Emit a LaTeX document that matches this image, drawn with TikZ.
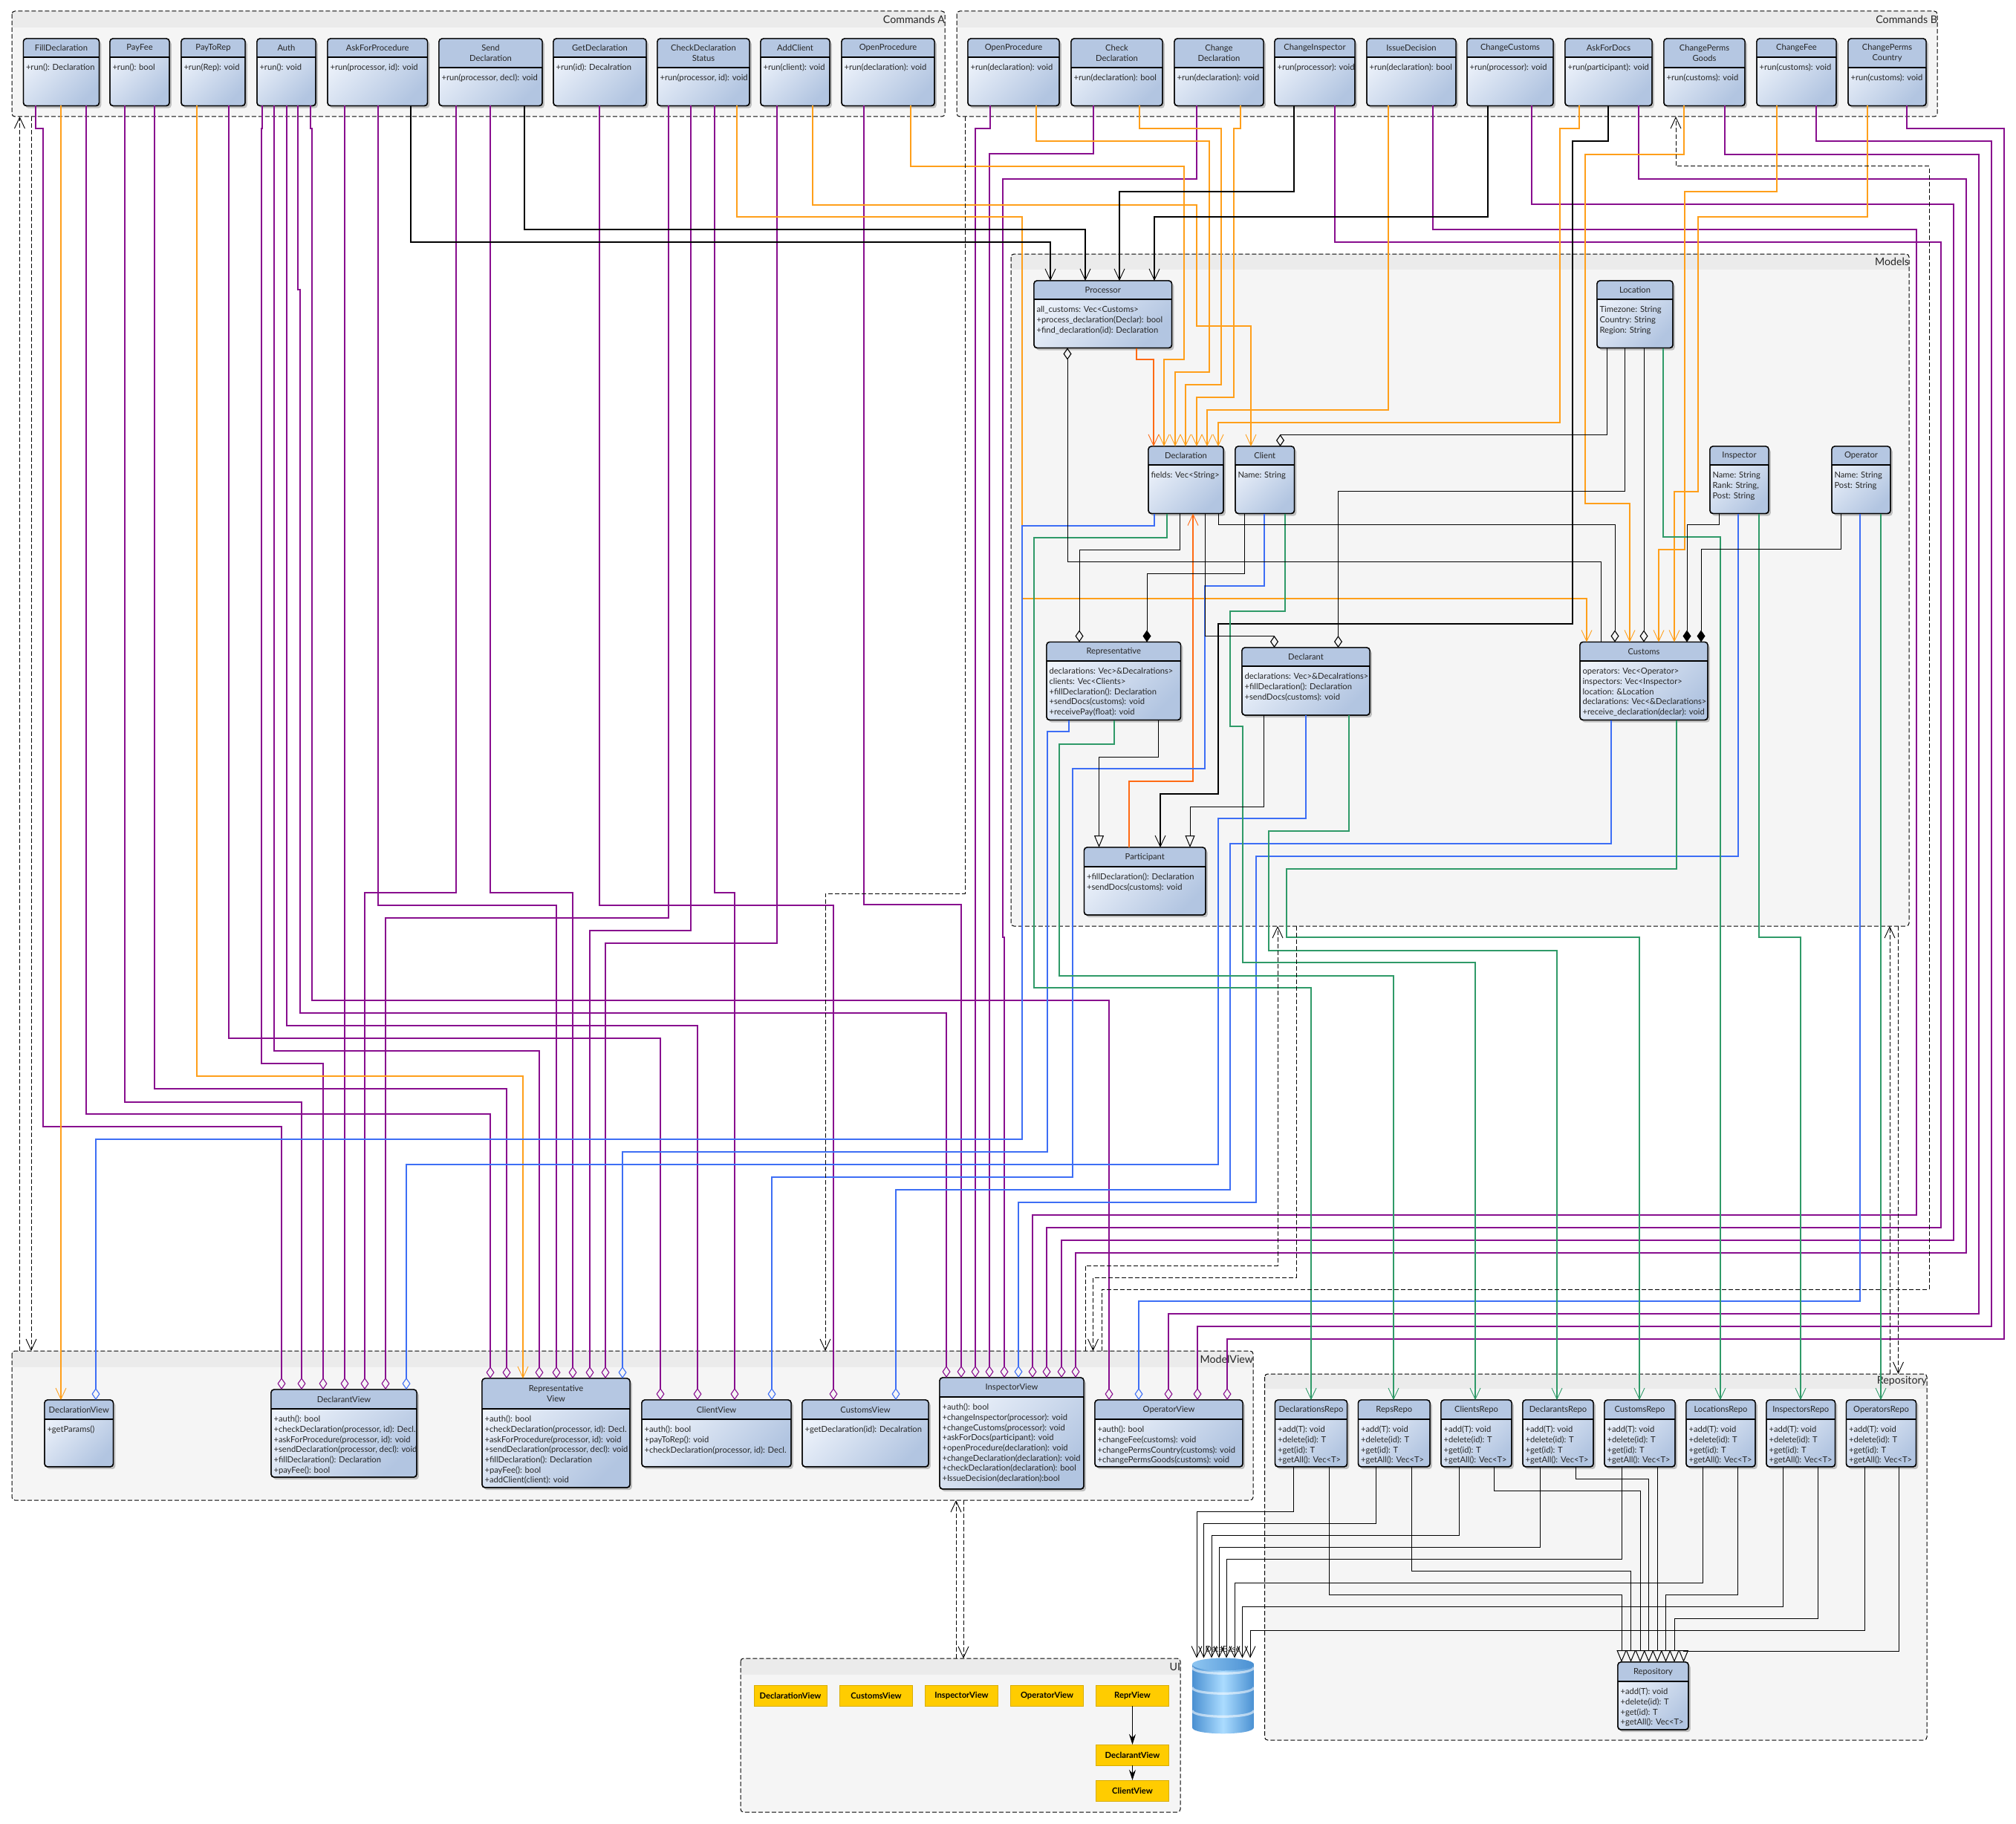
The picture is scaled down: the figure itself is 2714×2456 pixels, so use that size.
\documentclass[tikz,border=0pt]{standalone}
\usepackage{fontspec}
\setmainfont{Lato}
\usetikzlibrary{arrows.meta,shadows}
\definecolor{gradA}{HTML}{EEF3FB}
\definecolor{gradB}{HTML}{B2C5E1}
\definecolor{hdrC}{HTML}{B5C7E2}
\definecolor{pkgC}{HTML}{F5F5F5}
\definecolor{pkgH}{HTML}{EBEBEB}
\definecolor{cPur}{HTML}{880E8E}
\definecolor{cOra}{HTML}{FF9F1A}
\definecolor{cRed}{HTML}{FF6A13}
\definecolor{cBlu}{HTML}{3D6EF5}
\definecolor{cGre}{HTML}{2F9A68}
\definecolor{cYel}{HTML}{FFCC00}
\definecolor{dbA}{HTML}{4A90D2}
\definecolor{dbB}{HTML}{ABDCFF}
\tikzset{
  cls/.style={draw=black,line width=.7pt,rounded corners=2pt,inner sep=0pt,outer sep=0pt,
    top color=gradA,bottom color=gradB,shading angle=45,
    drop shadow={shadow xshift=1.4pt,shadow yshift=-1.6pt,opacity=.22,fill=black}},
  txtA/.style={font=\fontsize{5.6}{6.85}\selectfont,text=black!85,inner sep=0pt,outer sep=0pt},
  pkgbox/.style={inner sep=0pt,outer sep=0pt,fill=pkgC},
  pkgline/.style={draw=black,line width=.5pt,dash pattern=on 3pt off 1.5pt,rounded corners=2pt},
  pkglab/.style={font=\fontsize{7.1}{9}\selectfont,text=black!85,inner sep=0pt,outer sep=0pt,anchor=east},
  ybox/.style={fill=cYel,draw=cYel!85!black,line width=.4pt,inner sep=0pt,outer sep=0pt,
    minimum width=49pt,minimum height=14pt,font=\fontsize{5.6}{7}\selectfont\bfseries},
  pur/.style={draw=cPur,line width=.9pt},
  ora/.style={draw=cOra,line width=.9pt},
  red/.style={draw=cRed,line width=.9pt},
  blu/.style={draw=cBlu,line width=.9pt},
  gre/.style={draw=cGre,line width=.9pt},
  blk/.style={draw=black,line width=.85pt},
  thn/.style={draw=black,line width=.5pt},
  dep/.style={draw=black,line width=.5pt,dash pattern=on 3pt off 1.5pt,veetip},
  veetip/.style={-{Straight Barb[length=7.5pt,width=7pt,line width=.45pt]}},
  odia/.style={-{Diamond[open,length=8pt,width=5.5pt,line width=.55pt]}},
  sdia/.style={{Diamond[open,length=8pt,width=5.5pt,line width=.55pt]}-},
  fdia/.style={-{Diamond[length=8pt,width=5.5pt]}},
  otri/.style={-{Triangle[open,length=8pt,width=6.5pt,line width=.5pt]}},
}
\newcommand{\bstrut}{\rule{0pt}{4.4pt}}
% name x1 y1 x2 y2 header-bottom title body
\newcommand{\umlclass}[8]{
  \node[cls,minimum width={(#4-#2)*0.5pt},minimum height={(#5-#3)*0.5pt}] (#1) at ({(#2+#4)/2},{(#3+#5)/2}) {};
  \fill[hdrC] (#2,#6) [rounded corners=2pt] -- (#2,#3) -- (#4,#3) [sharp corners] -- (#4,#6) -- cycle;
  \draw[black,line width=.7pt] (#2,#6) -- (#4,#6);
  \draw[black,line width=.7pt,rounded corners=2pt] (#2,#3) rectangle (#4,#5);
  \node[txtA,align=center] (#1-title) at ({(#2+#4)/2},{(#3+#6)/2}) {#7};
  \node[txtA,align=left,anchor=north west] (#1-body) at ({#2+3.5},{#6+8.8}) {\bstrut #8};
}
% name x1 y1 x2 y2 header-bottom label
\newcommand{\umlpkg}[7]{
  \node[pkgbox,minimum width={(#4-#2)*0.5pt},minimum height={(#5-#3)*0.5pt}] (#1) at ({(#2+#4)/2},{(#3+#5)/2}) {};
  \fill[pkgH] (#2,#3) rectangle (#4,#6);
  \draw[pkgline] (#2,#3) rectangle (#4,#5);
  \node[pkglab] (#1-label) at (#4,{(#3+#6)/2}) {#7};
}
\newcommand{\repobody}{+add(T): void\\+delete(id): T\\+get(id): T\\+getAll(): Vec<T>}
\newcommand{\dbsec}[2]{
  \shade[left color=dbA,right color=dbA,middle color=dbB] (1605,#1) -- (1605,#2) .. controls (1605,{#2+11}) and (1688,{#2+11}) .. (1688,#2) -- (1688,#1) -- cycle;
  \draw[white,opacity=.55,line width=1.6pt] (1605,{#1+4}) .. controls (1605,{#1+15}) and (1688,{#1+15}) .. (1688,{#1+4});
}
\begin{document}
\begin{tikzpicture}[x=0.5pt,y=-0.5pt]
\useasboundingbox (0,0) rectangle (2714,2456);
\fill[white] (0,0) rectangle (2714,2456);
% ---------- containers
\umlpkg{pA}{16}{15}{1272}{157}{37}{Commands A}
\umlpkg{pB}{1288}{15}{2608}{157}{37}{Commands B}
\umlpkg{pModels}{1361}{342}{2570}{1247}{363}{Models}
\umlpkg{pView}{16}{1819}{1687}{2020}{1841}{ModelView}
\umlpkg{pRepo}{1702.5}{1850}{2594}{2343}{1870}{Repository}
\umlpkg{pUI}{997}{2233}{1589}{2440}{2255}{UI}
% ---------- Commands A
\umlclass{cFill}{31.5}{52}{133.5}{142.5}{77}{FillDeclaration}{+run(): Declaration}
\umlclass{cPayFee}{148}{52}{228}{142.5}{77}{PayFee}{+run(): bool}
\umlclass{cPayToRep}{244}{52}{330}{142.5}{77}{PayToRep}{+run(Rep): void}
\umlclass{cAuth}{346}{52}{425}{142.5}{77}{Auth}{+run(): void}
\umlclass{cAsk}{441}{52}{575.5}{142.5}{77}{AskForProcedure}{+run(processor, id): void}
\umlclass{cSend}{591}{52}{730}{142.5}{91}{Send\\Declaration}{+run(processor, decl): void}
\umlclass{cGet}{745}{52}{870}{142.5}{77}{GetDeclaration}{+run(id): Decalration}
\umlclass{cCheck}{885}{52}{1009}{142.5}{91}{CheckDeclaration\\Status}{+run(processor, id): void}
\umlclass{cAdd}{1024}{52}{1117}{142.5}{77}{AddClient}{+run(client): void}
\umlclass{cOpenA}{1133}{52}{1258}{142.5}{77}{OpenProcedure}{+run(declaration): void}
% ---------- Commands B
\umlclass{bOpen}{1303}{52}{1426}{142.5}{77}{OpenProcedure}{+run(declaration): void}
\umlclass{bCheck}{1442}{52}{1565}{142.5}{91}{Check\\Declaration}{+run(declaration): bool}
\umlclass{bChange}{1581}{52}{1701}{142.5}{91}{Change\\Declaration}{+run(declaration): void}
\umlclass{bInsp}{1716}{52}{1824}{142.5}{77}{ChangeInspector}{+run(processor): void}
\umlclass{bIssue}{1840}{52}{1960}{142.5}{77}{IssueDecision}{+run(declaration): bool}
\umlclass{bCust}{1975}{52}{2091}{142.5}{77}{ChangeCustoms}{+run(processor): void}
\umlclass{bDocs}{2107}{52}{2224}{142.5}{77}{AskForDocs}{+run(participant): void}
\umlclass{bGoods}{2240}{52}{2349}{142.5}{91}{ChangePerms\\Goods}{+run(customs): void}
\umlclass{bFee}{2365}{52}{2472}{142.5}{77}{ChangeFee}{+run(customs): void}
\umlclass{bCountry}{2488}{52}{2593}{142.5}{91}{ChangePerms\\Country}{+run(customs): void}
% ---------- Models
\umlclass{Processor}{1392}{378}{1577.5}{468.5}{403}{Processor}{all\_customs: Vec<Customs>\\+process\_declaration(Declar): bool\\+find\_declaration(id): Declaration}
\umlclass{Location}{2150}{378}{2252}{468.5}{403}{Location}{Timezone: String\\Country: String\\Region: String}
\umlclass{Declaration}{1546}{601}{1647}{691.5}{626}{Declaration}{fields: Vec<String>}
\umlclass{Client}{1663}{601}{1742.5}{691.5}{626}{Client}{Name: String}
\umlclass{Inspector}{2302}{601}{2381}{691.5}{626}{Inspector}{Name: String\\Rank: String,\\Post: String}
\umlclass{Operator}{2466}{601}{2545}{691.5}{626}{Operator}{Name: String\\Post: String}
\umlclass{Representative}{1409}{864.5}{1589.5}{969.5}{890}{Representative}{declarations: Vec>\&Decalrations>\\clients: Vec<Clients>\\+fillDeclaration(): Declaration\\+sendDocs(customs): void\\+receivePay(float): void}
\umlclass{Declarant}{1672}{872}{1844}{963}{897}{Declarant}{declarations: Vec>\&Decalrations>\\+fillDeclaration(): Declaration\\+sendDocs(customs): void}
\umlclass{Customs}{2127}{864.5}{2299}{969.5}{890}{Customs}{operators: Vec<Operator>\\inspectors: Vec<Inspector>\\location: \&Location\\declarations: Vec<\&Declarations>\\+receive\_declaration(declar): void}
\umlclass{Participant}{1459.5}{1141}{1623}{1232}{1167}{Participant}{+fillDeclaration(): Declaration\\+sendDocs(customs): void}
% ---------- ModelView
\umlclass{vDeclaration}{60}{1885}{152.5}{1975}{1911}{DeclarationView}{+getParams()}
\umlclass{vDeclarant}{365}{1871}{561}{1989}{1897}{DeclarantView}{+auth(): bool\\+checkDeclaration(processor, id): Decl.\\+askForProcedure(processor, id): void\\+sendDeclaration(processor, decl): void\\+fillDeclaration(): Declaration\\+payFee(): bool}
\umlclass{vRepr}{649}{1856}{848}{2003}{1897}{Representative\\View}{+auth(): bool\\+checkDeclaration(processor, id): Decl.\\+askForProcedure(processor, id): void\\+sendDeclaration(processor, decl): void\\+fillDeclaration(): Declaration\\+payFee(): bool\\+addClient(client): void}
\umlclass{vClient}{864}{1885}{1065}{1975}{1911}{ClientView}{+auth(): bool\\+payToRep(): void\\+checkDeclaration(processor, id): Decl.}
\umlclass{vCustoms}{1080}{1885}{1250}{1975}{1911}{CustomsView}{+getDeclaration(id): Decalration}
\umlclass{vInspector}{1265}{1855}{1459}{2005}{1881}{InspectorView}{+auth(): bool\\+changeInspector(processor): void\\+changeCustoms(processor): void\\+askForDocs(participant): void\\+openProcedure(declaration): void\\+changeDeclaration(declaration): void\\+checkDeclaration(declaration): bool\\+IssueDecision(declaration):bool}
\umlclass{vOperator}{1474}{1885}{1673}{1975}{1911}{OperatorView}{+auth(): bool\\+changeFee(customs): void\\+changePermsCountry(customs): void\\+changePermsGoods(customs): void}
% ---------- Repository
\umlclass{rDecl}{1716.5}{1885}{1813.5}{1975}{1911}{DeclarationsRepo}{\repobody}
\umlclass{rReps}{1828.5}{1885}{1925}{1975}{1911}{RepsRepo}{\repobody}
\umlclass{rClients}{1940}{1885}{2035}{1975}{1911}{ClientsRepo}{\repobody}
\umlclass{rDeclarants}{2050}{1885}{2145}{1975}{1911}{DeclarantsRepo}{\repobody}
\umlclass{rCustoms}{2160}{1885}{2255}{1975}{1911}{CustomsRepo}{\repobody}
\umlclass{rLocations}{2270}{1885}{2363}{1975}{1911}{LocationsRepo}{\repobody}
\umlclass{rInspectors}{2378}{1885}{2470.5}{1975}{1911}{InspectorsRepo}{\repobody}
\umlclass{rOperators}{2485.5}{1885}{2579.5}{1975}{1911}{OperatorsRepo}{\repobody}
\umlclass{Repository}{2178}{2238}{2273}{2329}{2264}{Repository}{\repobody}
% ---------- UI
\node[ybox] (uDecl) at (1064,2283) {DeclarationView};
\node[ybox] (uCust) at (1179.5,2283) {CustomsView};
\node[ybox] (uInsp) at (1294.5,2283) {InspectorView};
\node[ybox] (uOper) at (1409.5,2283) {OperatorView};
\node[ybox] (uRepr) at (1524.5,2283) {ReprView};
\node[ybox] (uDeclarant) at (1524.5,2363) {DeclarantView};
\node[ybox] (uClient) at (1524.5,2411) {ClientView};
\draw[thn,-{Stealth[length=7pt,width=4.5pt]}] (uRepr) -- (uDeclarant);
\draw[thn,-{Stealth[length=7pt,width=4.5pt]}] (uDeclarant) -- (uClient);
% ---------- Database
\dbsec{2299}{2326}
\dbsec{2268}{2300}
\dbsec{2241}{2268}
\shade[left color=dbB!70!dbA,right color=dbA] (1646.5,2241) ellipse [x radius=41.5,y radius=8.5];
\node[inner sep=0pt,outer sep=0pt,minimum width=41.5pt,minimum height=51pt] (DB) at (1646.5,2283.5) {};
% ---------- purple: Commands A -> views
\draw[pur,odia] (cFill.south -| 48,0) |- (58,173) |- (379,1517) -- (vDeclarant.north -| 379,0);
\draw[pur,odia] (cFill.south -| 116,0) |- (660,1500) -- (vRepr.north -| 660,0);
\draw[pur,odia] (cPayFee.south -| 168,0) |- (406,1484) -- (vDeclarant.north -| 406,0);
\draw[pur,odia] (cPayFee.south -| 208,0) |- (682,1466) -- (vRepr.north -| 682,0);
\draw[pur,odia] (cPayToRep.south -| 308,0) |- (889,1398) -- (vClient.north -| 889,0);
\draw[pur,odia] (cAuth.south -| 353,0) |- (352,173) |- (435,1432) -- (vDeclarant.north -| 435,0);
\draw[pur,odia] (cAuth.south -| 369,0) |- (726,1415) -- (vRepr.north -| 726,0);
\draw[pur,odia] (cAuth.south -| 386,0) |- (939,1381) -- (vClient.north -| 939,0);
\draw[pur,odia] (cAuth.south -| 401,0) |- (404,390) |- (1274,1364) -- (vInspector.north -| 1274,0);
\draw[pur,odia] (cAuth.south -| 418,0) |- (420,173) |- (1493,1347) -- (vOperator.north -| 1493,0);
\draw[pur,odia] (cAsk.south -| 464,0) -- (vDeclarant.north -| 464,0);
\draw[pur,odia] (cAsk.south -| 509,0) |- (749,1219) -- (vRepr.north -| 749,0);
\draw[pur,odia] (cSend.south -| 614,0) |- (491,1202) -- (vDeclarant.north -| 491,0);
\draw[pur,odia] (cSend.south -| 660,0) |- (771,1202) -- (vRepr.north -| 771,0);
\draw[pur,odia] (cGet.south -| 807,0) |- (1122,1219) -- (vCustoms.north -| 1122,0);
\draw[pur,odia] (cCheck.south -| 900,0) |- (519,1236) -- (vDeclarant.north -| 519,0);
\draw[pur,odia] (cCheck.south -| 930,0) |- (794,1253) -- (vRepr.north -| 794,0);
\draw[pur,odia] (cCheck.south -| 962,0) |- (989,1202) -- (vClient.north -| 989,0);
\draw[pur,odia] (cAdd.south -| 1046,0) |- (815,1270) -- (vRepr.north -| 815,0);
\draw[pur,odia] (cOpenA.south -| 1163,0) |- (1294,1218) -- (vInspector.north -| 1294,0);
% ---------- purple: Commands B -> views
\draw[pur,odia] (bOpen.south -| 1333,0) |- (1313,173) -- (vInspector.north -| 1313,0);
\draw[pur,odia] (bCheck.south -| 1472,0) |- (1332,207) -- (vInspector.north -| 1332,0);
\draw[pur,odia] (bChange.south -| 1611,0) |- (1350,241) |- (1352,1262) -- (vInspector.north -| 1352,0);
\draw[pur,odia] (bInsp.south -| 1797,0) |- (2613,326) |- (1409,1653) -- (vInspector.north -| 1409,0);
\draw[pur,odia] (bIssue.south -| 1929,0) |- (2580,309) |- (1390,1636) -- (vInspector.north -| 1390,0);
\draw[pur,odia] (bCust.south -| 2062,0) |- (2630,275) |- (1429,1670) -- (vInspector.north -| 1429,0);
\draw[pur,odia] (bDocs.south -| 2206,0) |- (2647,241) |- (1448,1687) -- (vInspector.north -| 1448,0);
\draw[pur,odia] (bGoods.south -| 2322,0) |- (2664,208) |- (1573,1769) -- (vOperator.north -| 1573,0);
\draw[pur,odia] (bFee.south -| 2445,0) |- (2681,190) |- (1612,1786) -- (vOperator.north -| 1612,0);
\draw[pur,odia] (bCountry.south -| 2567,0) |- (2698,173) |- (1652,1803) -- (vOperator.north -| 1652,0);
% ---------- orange
\draw[ora,veetip] (cFill.south -| 82,0) -- (vDeclaration.north -| 82,0);
\draw[ora,veetip] (cPayToRep.south -| 265,0) |- (704,1449) -- (vRepr.north -| 704,0);
\draw[ora,veetip] (cCheck.south -| 992,0) |- (1376,292) |- (2136,806) -- (Customs.north -| 2136,0);
\draw[ora,veetip] (cAdd.south -| 1094,0) |- (1611,276) |- (1684,439) -- (Client.north -| 1684,0);
\draw[ora,veetip] (cOpenA.south -| 1226,0) |- (1594,224) |- (1567,484) -- (Declaration.north -| 1567,0);
\draw[ora,veetip] (bOpen.south -| 1395,0) |- (1628,190) |- (1582,501) -- (Declaration.north -| 1582,0);
\draw[ora,veetip] (bCheck.south -| 1534,0) |- (1644,173) |- (1596,518) -- (Declaration.north -| 1596,0);
\draw[ora,veetip] (bChange.south -| 1670,0) |- (1661,173) |- (1611,535) -- (Declaration.north -| 1611,0);
\draw[ora,veetip] (bIssue.south -| 1869,0) |- (1625,552) -- (Declaration.north -| 1625,0);
\draw[ora,veetip] (bDocs.south -| 2126,0) |- (2100,173) |- (1640,569) -- (Declaration.north -| 1640,0);
\draw[ora,veetip] (bGoods.south -| 2267,0) |- (2134,208) |- (2194,678) -- (Customs.north -| 2194,0);
\draw[ora,veetip] (bFee.south -| 2392,0) |- (2268,258) |- (2233,740) -- (Customs.north -| 2233,0);
\draw[ora,veetip] (bCountry.south -| 2514,0) |- (2286,292) |- (2254,662) -- (Customs.north -| 2254,0);
\draw[red,veetip] (Processor.south -| 1530,0) |- (1553,484) -- (Declaration.north -| 1553,0);
\draw[red,veetip] (Participant.north -| 1520,0) |- (1606,1052) -- (Declaration.south -| 1606,0);
% ---------- black, heavy
\draw[blk,veetip] (cAsk.south -| 553,0) |- (1414,326) -- (Processor.north -| 1414,0);
\draw[blk,veetip] (cSend.south -| 706,0) |- (1461,309) -- (Processor.north -| 1461,0);
\draw[blk,veetip] (bInsp.south -| 1742,0) |- (1507,258) -- (Processor.north -| 1507,0);
\draw[blk,veetip] (bCust.south -| 2003,0) |- (1554,292) -- (Processor.north -| 1554,0);
\draw[blk,veetip] (bDocs.south -| 2165,0) |- (2117,190) |- (1640,840) |- (1562,1069) -- (Participant.north -| 1562,0);
% ---------- blue
\draw[blu,odia] (Declaration.south -| 1554,0) |- (1376,708) |- (129,1534) -- (vDeclaration.north -| 129,0);
\draw[blu,odia] (Representative.south -| 1439,0) |- (1410,985) |- (838,1551) -- (vRepr.north -| 838,0);
\draw[blu,odia] (Declarant.south -| 1758,0) |- (1640,1102) |- (547,1568) -- (vDeclarant.north -| 547,0);
\draw[blu,odia] (Client.south -| 1702,0) |- (1622,789) |- (1444,1035) |- (1039,1585) -- (vClient.north -| 1039,0);
\draw[blu,odia] (Customs.south -| 2169,0) |- (1656,1136) |- (1206,1602) -- (vCustoms.north -| 1206,0);
\draw[blu,odia] (Inspector.south -| 2340,0) |- (1691,1153) |- (1371,1619) -- (vInspector.north -| 1371,0);
\draw[blu,odia] (Operator.south -| 2504,0) |- (1533,1752) -- (vOperator.north -| 1533,0);
% ---------- green
\draw[gre,veetip] (Declaration.south -| 1571,0) |- (1392,724) |- (1765,1330) -- (rDecl.north -| 1765,0);
\draw[gre,veetip] (Representative.south -| 1500,0) |- (1426,1002) |- (1876,1314) -- (rReps.north -| 1876,0);
\draw[gre,veetip] (Client.south -| 1730,0) |- (1656,823) |- (1673,978) |- (1986,1296) -- (rClients.north -| 1986,0);
\draw[gre,veetip] (Declarant.south -| 1816,0) |- (1708,1119) |- (2096,1280) -- (rDeclarants.north -| 2096,0);
\draw[gre,veetip] (Customs.south -| 2257,0) |- (1732,1170) |- (2207,1262) -- (rCustoms.north -| 2207,0);
\draw[gre,veetip] (Location.south -| 2239,0) |- (2316,723) -- (rLocations.north -| 2316,0);
\draw[gre,veetip] (Inspector.south -| 2368,0) |- (2424,1262) -- (rInspectors.north -| 2424,0);
\draw[gre,veetip] (Operator.south -| 2532,0) -- (rOperators.north -| 2532,0);
% ---------- thin black, models
\draw[thn,sdia] (Processor.south -| 1437,0) |- (2155.5,756.5) -- (Customs.north -| 2155.5,0);
\draw[thn,odia] (Declaration.south -| 1588,0) |- (1453,740.5) -- (Representative.north -| 1453,0);
\draw[thn,fdia] (Client.south -| 1675,0) |- (1544,772) -- (Representative.north -| 1544,0);
\draw[thn,odia] (Declaration.south -| 1622,0) |- (1715.5,856) -- (Declarant.north -| 1715.5,0);
\draw[thn,odia] (Declaration.south -| 1640,0) |- (2174,706.5) -- (Customs.north -| 2174,0);
\draw[thn,odia] (Location.south -| 2163,0) |- (1723.5,585.5) -- (Client.north -| 1723.5,0);
\draw[thn,odia] (Location.south -| 2187.5,0) |- (1801.5,661.5) -- (Declarant.north -| 1801.5,0);
\draw[thn,odia] (Location.south -| 2213,0) -- (Customs.north -| 2213,0);
\draw[thn,fdia] (Inspector.south -| 2314,0) |- (2271,706.5) -- (Customs.north -| 2271,0);
\draw[thn,fdia] (Operator.south -| 2478,0) |- (2290,739) -- (Customs.north -| 2290,0);
\draw[thn,otri] (Representative.south -| 1559,0) |- (1479.5,1019) -- (Participant.north -| 1479.5,0);
\draw[thn,otri] (Declarant.south -| 1701,0) |- (1602,1086) -- (Participant.north -| 1602,0);
% ---------- repositories -> database / Repository
\draw[thn,veetip] (rDecl.south -| 1741,0) |- (1611,2035) -- (DB.north -| 1611,0);
\draw[thn,veetip] (rReps.south -| 1852,0) |- (1620.5,2051) -- (DB.north -| 1620.5,0);
\draw[thn,veetip] (rClients.south -| 1964,0) |- (1631,2067) -- (DB.north -| 1631,0);
\draw[thn,veetip] (rDeclarants.south -| 2073,0) |- (1641,2083) -- (DB.north -| 1641,0);
\draw[thn,veetip] (rCustoms.south -| 2183,0) |- (1651,2099) -- (DB.north -| 1651,0);
\draw[thn,veetip] (rLocations.south -| 2292.5,0) |- (1662,2131) -- (DB.north -| 1662,0);
\draw[thn,veetip] (rInspectors.south -| 2400.5,0) |- (1672.5,2163) -- (DB.north -| 1672.5,0);
\draw[thn,veetip] (rOperators.south -| 2510,0) |- (1683,2195) -- (DB.north -| 1683,0);
\draw[thn,otri] (rDecl.south -| 1789,0) |- (2183,2147) -- (Repository.north -| 2183,0);
\draw[thn,otri] (rReps.south -| 1900,0) |- (2195.5,2115) -- (Repository.north -| 2195.5,0);
\draw[thn,otri] (rClients.south -| 2011,0) |- (2208,2007) -- (Repository.north -| 2208,0);
\draw[thn,otri] (rDeclarants.south -| 2121,0) |- (2219.5,1991) -- (Repository.north -| 2219.5,0);
\draw[thn,otri] (rCustoms.south -| 2231,0) -- (Repository.north -| 2231,0);
\draw[thn,otri] (rLocations.south -| 2339,0) |- (2242.5,2147) -- (Repository.north -| 2242.5,0);
\draw[thn,otri] (rInspectors.south -| 2447.5,0) |- (2254,2179) -- (Repository.north -| 2254,0);
\draw[thn,otri] (rOperators.south -| 2556,0) |- (2266.5,2223) -- (Repository.north -| 2266.5,0);
\node[txtA] (DB-label) at (1646,2221) {DataBase};
% ---------- dashed dependencies
\draw[dep] (pView.north -| 26.5,0) -- (pA.south -| 26.5,0);
\draw[dep] (pA.south -| 42,0) -- (pView.north -| 42,0);
\draw[dep] (pB.south -| 1299,0) |- (1111,1203) -- (pView.north -| 1111,0);
\draw[dep] (pView.north -| 1483,0) |- (2597,1736) |- (2256,224) -- (pB.south -| 2256,0);
\draw[dep] (pModels.south -| 1745,0) |- (1471.5,1720) -- (pView.north -| 1471.5,0);
\draw[dep] (pView.north -| 1461,0) |- (1720,1704) -- (pModels.south -| 1720,0);
\draw[dep] (pRepo.north -| 2544,0) -- (pModels.south -| 2544,0);
\draw[dep] (pModels.south -| 2555.5,0) -- (pRepo.north -| 2555.5,0);
\draw[dep] (pUI.north -| 1287,0) -- (pView.south -| 1287,0);
\draw[dep] (pView.south -| 1297,0) -- (pUI.north -| 1297,0);
\end{tikzpicture}
\end{document}
